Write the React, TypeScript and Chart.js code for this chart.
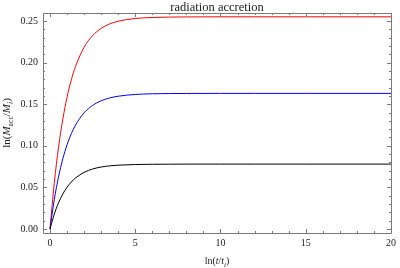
import React, { useEffect, useRef } from "react";
import { Chart, registerables } from "chart.js";

Chart.register(...registerables);

const xValues = [0, 0.25, 0.5, 0.75, 1, 1.25, 1.5, 2, 2.5, 3, 3.5, 4, 5, 6, 7, 8, 10, 12, 15, 20];
const redValues = [0, 0.0549, 0.098, 0.1318, 0.1583, 0.1792, 0.1955, 0.2184, 0.2324, 0.2411, 0.2465, 0.2497, 0.253, 0.2542, 0.2547, 0.2549, 0.255, 0.255, 0.255, 0.255];
const blueValues = [0, 0.0351, 0.0626, 0.0843, 0.1012, 0.1145, 0.125, 0.1396, 0.1486, 0.1541, 0.1575, 0.1596, 0.1617, 0.1625, 0.1628, 0.1629, 0.163, 0.163, 0.163, 0.163];
const blackValues = [0, 0.0177, 0.0314, 0.042, 0.0502, 0.0565, 0.0614, 0.0681, 0.0721, 0.0745, 0.0759, 0.0767, 0.0775, 0.0778, 0.0779, 0.078, 0.078, 0.078, 0.078, 0.078];

const xTicks = [0, 5, 10, 15, 20];
const yTicks = [0, 0.05, 0.1, 0.15, 0.2, 0.25];
const titleText = "radiation accretion";

const SERIF = "'Liberation Serif', 'DejaVu Serif', serif";
const FRAME = "#7a7a7a";

type Seg = { t: string; italic?: boolean; sub?: boolean };

function drawSegs(ctx: CanvasRenderingContext2D, segs: Seg[], cx: number, cy: number, size: number) {
  const subSize = size * 0.7;
  const fontFor = (s: Seg) => `${s.italic ? "italic " : ""}${s.sub ? subSize : size}px ${SERIF}`;
  let total = 0;
  for (const s of segs) {
    ctx.font = fontFor(s);
    total += ctx.measureText(s.t).width;
  }
  let x = cx - total / 2;
  ctx.textAlign = "left";
  ctx.textBaseline = "alphabetic";
  for (const s of segs) {
    ctx.font = fontFor(s);
    ctx.fillText(s.t, x, cy + (s.sub ? size * 0.25 : 0));
    x += ctx.measureText(s.t).width;
  }
}

const framePlugin = {
  id: "framePlugin",
  afterDraw(chart: any) {
    const ctx = chart.ctx as CanvasRenderingContext2D;
    const { left, right, top, bottom } = chart.chartArea;
    const xs = chart.scales.x;
    const ys = chart.scales.y;
    ctx.save();
    ctx.strokeStyle = FRAME;
    ctx.lineWidth = 1;
    ctx.beginPath();
    ctx.rect(Math.round(left) + 0.5, Math.round(top) + 0.5, Math.round(right - left), Math.round(bottom - top));
    ctx.stroke();
    // x ticks
    ctx.beginPath();
    for (let v = 0; v <= 20; v += 1) {
      const px = Math.round(xs.getPixelForValue(v)) + 0.5;
      const len = v % 5 === 0 ? 4 : 2;
      ctx.moveTo(px, bottom);
      ctx.lineTo(px, bottom - len);
      ctx.moveTo(px, top);
      ctx.lineTo(px, top + len);
    }
    for (let i = 0; i <= 25; i += 1) {
      const py = Math.round(ys.getPixelForValue(i / 100)) + 0.5;
      const len = i % 5 === 0 ? 4 : 2;
      ctx.moveTo(left, py);
      ctx.lineTo(left + len, py);
      ctx.moveTo(right, py);
      ctx.lineTo(right - len, py);
    }
    ctx.stroke();

    // title
    ctx.fillStyle = "#222";
    ctx.font = `12.5px ${SERIF}`;
    ctx.textAlign = "center";
    ctx.textBaseline = "alphabetic";
    ctx.fillText(titleText, (left + right) / 2, 11);

    // x label
    drawSegs(
      ctx,
      [{ t: "ln(" }, { t: "t", italic: true }, { t: "/" }, { t: "t", italic: true }, { t: "i", italic: true, sub: true }, { t: ")" }],
      (left + right) / 2,
      264,
      10
    );
    // y label
    ctx.save();
    ctx.translate(10, (top + bottom) / 2);
    ctx.rotate(-Math.PI / 2);
    drawSegs(
      ctx,
      [
        { t: "ln(" },
        { t: "M", italic: true },
        { t: "acc", sub: true },
        { t: "/" },
        { t: "M", italic: true },
        { t: "i", italic: true, sub: true },
        { t: ")" },
      ],
      0,
      0,
      11
    );
    ctx.restore();
    ctx.restore();
  },
};

export default function App() {
  const canvasRef = useRef<HTMLCanvasElement | null>(null);

  useEffect(() => {
    const canvas = canvasRef.current;
    if (!canvas) return;
    const mk = (vals: number[]) => xValues.map((x, i) => ({ x, y: vals[i] }));
    const common = {
      pointRadius: 0,
      borderWidth: 1,
      cubicInterpolationMode: "monotone" as const,
      fill: false,
    };
    const chart = new Chart(canvas, {
      type: "line",
      data: {
        datasets: [
          { ...common, label: "black", data: mk(blackValues), borderColor: "#000000" },
          { ...common, label: "blue", data: mk(blueValues), borderColor: "#0000ff" },
          { ...common, label: "red", data: mk(redValues), borderColor: "#ff0000" },
        ],
      },
      options: {
        animation: false,
        responsive: false,
        maintainAspectRatio: false,
        layout: { padding: { left: 0, right: 7, top: 13, bottom: 0 } },
        plugins: { legend: { display: false }, tooltip: { enabled: false }, title: { display: false } },
        scales: {
          x: {
            type: "linear",
            min: -0.41,
            max: 20,
            afterBuildTicks: (s: any) => {
              s.ticks = xTicks.map((v) => ({ value: v }));
            },
            afterFit: (s: any) => {
              s.height = 35;
            },
            grid: { display: false, drawTicks: false },
            border: { display: false },
            ticks: {
              padding: 4,
              color: "#222",
              font: { family: SERIF, size: 10 },
              maxRotation: 0,
              callback: (v: any) => String(v),
            },
          },
          y: {
            type: "linear",
            min: -0.0048,
            max: 0.2596,
            afterBuildTicks: (s: any) => {
              s.ticks = yTicks.map((v) => ({ value: v }));
            },
            afterFit: (s: any) => {
              s.width = 43;
            },
            grid: { display: false, drawTicks: false },
            border: { display: false },
            ticks: {
              padding: 5,
              color: "#222",
              font: { family: SERIF, size: 10 },
              callback: (v: any) => Number(v).toFixed(2),
            },
          },
        },
      },
      plugins: [framePlugin],
    });
    return () => chart.destroy();
  }, []);

  return (
    <div style={{ position: "absolute", left: 0, top: 0, width: 400, height: 268, background: "#fff" }}>
      <canvas ref={canvasRef} width={400} height={268} style={{ display: "block" }} />
    </div>
  );
}
